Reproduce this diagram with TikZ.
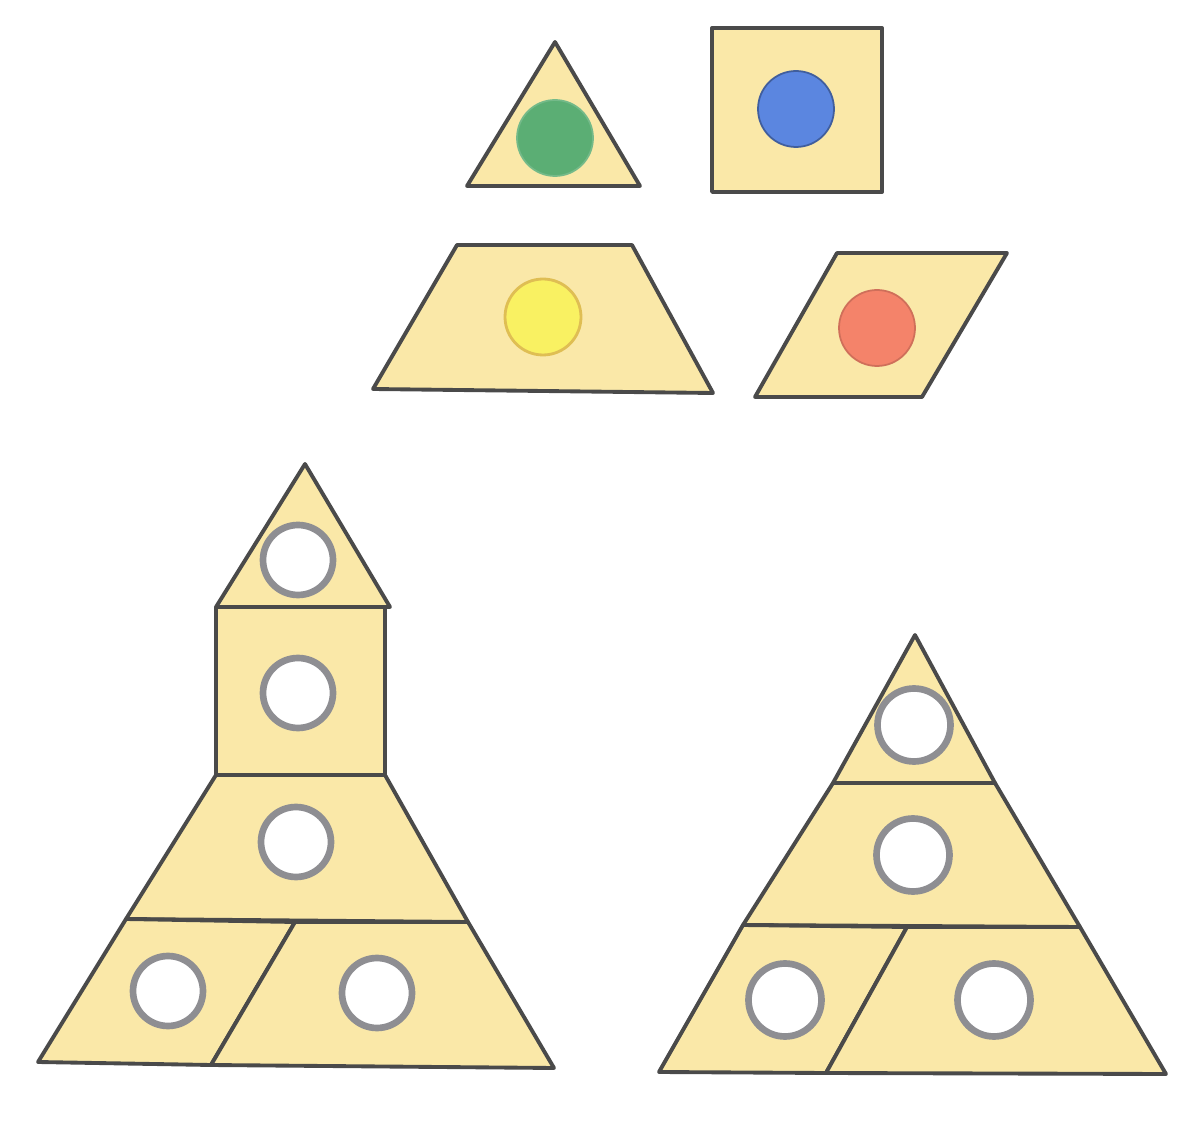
\documentclass[tikz,border=0pt]{standalone}
\usepackage{xcolor}
\usepackage{tikz}
\usetikzlibrary{positioning}
\definecolor{card}{HTML}{FAE8A8}
\definecolor{edge}{HTML}{4A4A4A}
\definecolor{ring}{HTML}{8E8E92}
\definecolor{dotG}{HTML}{5BAE74}
\definecolor{dotB}{HTML}{5B86E0}
\definecolor{dotY}{HTML}{F9F162}
\definecolor{dotR}{HTML}{F4836A}
\tikzset{
  piece/.style={draw=edge, fill=card, line width=2.2pt, line join=round},
  dot/.style={circle, minimum size=15.2mm, inner sep=0pt, line width=1pt},
  hole/.style={circle, draw=ring, fill=white, minimum size=14mm, inner sep=0pt, line width=3.8pt},
}

\begin{document}
\begin{tikzpicture}[x=0.02cm, y=-0.02cm]
\useasboundingbox (0,0) rectangle (1204,1124);
% sample pieces
\draw[piece] (555,42) -- (640,186) -- (467,186) -- cycle;
\draw[piece] (712,28) rectangle (882,192);
\draw[piece] (457,245) -- (632,245) -- (713,393) -- (373,389) -- cycle;
\draw[piece] (837,253) -- (1007,253) -- (922,397) -- (755,397) -- cycle;
\node[dot, draw=dotG!85!white, fill=dotG] (g) at (555,138) {};
\node[dot, draw=dotB!70!black, fill=dotB] (b) at (796,109) {};
\node[dot, draw=dotY!55!brown, fill=dotY, line width=1.6pt] (y) at (543,317) {};
\node[dot, draw=dotR!85!black, fill=dotR] (r) at (877,328) {};
% tower corners
\coordinate (ta) at (305,464);
\coordinate (tl) at (216,607);
\coordinate (tr) at (390,607);
\coordinate (sr) at (385,607);
\coordinate (ql) at (216,775);
\coordinate (qr) at (385,775);
\coordinate (ml) at (126,919);
\coordinate (mr) at (468,922);
\coordinate (mc) at (295,922);
\coordinate (bl) at (38,1062);
\coordinate (bc) at (211,1065);
\coordinate (br) at (554,1068);
\draw[piece] (ta) -- (tr) -- (tl) -- cycle;
\draw[piece] (tl) -- (sr) -- (qr) -- (ql) -- cycle;
\draw[piece] (ql) -- (qr) -- (mr) -- (ml) -- cycle;
\draw[piece] (ml) -- (mc) -- (bc) -- (bl) -- cycle;
\draw[piece] (mc) -- (mr) -- (br) -- (bc) -- cycle;
\node[hole] (t1) at (298,560) {};
\node[hole] (t2) at (298,693) {};
\node[hole] (t3) at (296,842) {};
\node[hole] (t4) at (168,991) {};
\node[hole] (t5) at (377,993) {};
% pyramid corners
\coordinate (pa) at (915,635);
\coordinate (p1l) at (833,783);
\coordinate (p1r) at (995,783);
\coordinate (p2l) at (743,925);
\coordinate (p2r) at (1080,927);
\coordinate (p2c) at (907,927);
\coordinate (p3l) at (659,1072);
\coordinate (p3c) at (826,1073);
\coordinate (p3r) at (1166,1074);
\draw[piece] (pa) -- (p1r) -- (p1l) -- cycle;
\draw[piece] (p1l) -- (p1r) -- (p2r) -- (p2l) -- cycle;
\draw[piece] (p2l) -- (p2c) -- (p3c) -- (p3l) -- cycle;
\draw[piece] (p2c) -- (p2r) -- (p3r) -- (p3c) -- cycle;
\node[hole, minimum size=14.6mm] (q1) at (914,725) {};
\node[hole, minimum size=14.6mm] (q2) at (913,855) {};
\node[hole, minimum size=14.6mm] (q3) at (785,1000) {};
\node[hole, minimum size=14.6mm] (q4) at (994,1000) {};
\end{tikzpicture}
\end{document}
